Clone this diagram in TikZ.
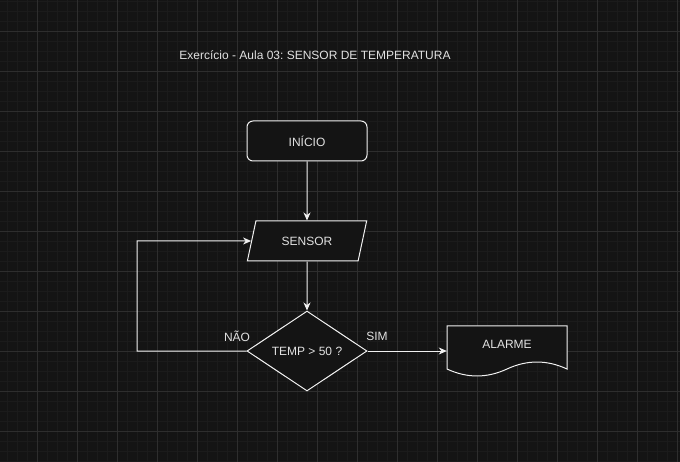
\documentclass[tikz,border=0pt]{standalone}
\usepackage{fontspec}
\setmainfont{Liberation Sans}
\usetikzlibrary{shapes.geometric,arrows.meta}
\definecolor{bgc}{RGB}{20,20,20}
\definecolor{minorc}{RGB}{27,27,27}
\definecolor{majorc}{RGB}{46,46,46}
\definecolor{linec}{RGB}{240,240,240}
\definecolor{txtc}{RGB}{225,225,225}
\tikzset{
  box/.style={draw=linec, fill=bgc, line width=1pt, text=txtc, font=\fontsize{12}{14}\selectfont, inner sep=0pt},
  lbl/.style={text=txtc, font=\fontsize{12}{14}\selectfont, inner sep=0pt},
  arr/.style={draw=linec, line width=1pt, -{Stealth[length=8pt,width=7pt,inset=2.5pt]}},
  plain/.style={draw=linec, line width=1pt}
}
\frenchspacing
\begin{document}
\begin{tikzpicture}[x=1pt,y=-1pt]
\useasboundingbox (0,0) rectangle (680,462);
\fill[bgc] (0,0) rectangle (680,462);
\foreach \i in {7,17,...,677} \draw[minorc,line width=0.6pt] (\i,0) -- (\i,462);
\foreach \j in {1,11,...,461} \draw[minorc,line width=0.6pt] (0,\j) -- (680,\j);
\foreach \i in {37,77,...,677} \draw[majorc,line width=0.8pt] (\i,0) -- (\i,462);
\foreach \j in {31,71,...,431} \draw[majorc,line width=0.8pt] (0,\j) -- (680,\j);

\node[lbl] (title) at (315,55) {\frenchspacing Exercício - Aula 03: SENSOR DE TEMPERATURA};

\node[box, rectangle, rounded corners=6pt, minimum width=120, minimum height=40] (inicio) at (307,141) {INÍCIO};
\node[box, trapezium, trapezium left angle=63.43, trapezium right angle=116.57, trapezium stretches=true, minimum width=120, minimum height=40] (sensor) at (307,241) {SENSOR};
\node[box, diamond, minimum width=120, minimum height=80] (decisao) at (307,351) {TEMP > 50 ?};

% document shape
\coordinate (dNW) at (447,326);
\coordinate (dNE) at (567,326);
\path[box] (dNW) -- (dNE) -- (567,369) .. controls (547,359.7) and (527,359.7) .. (507,369) .. controls (487,378.3) and (467,378.3) .. (447,369) -- cycle;
\node[lbl, minimum width=120, minimum height=36] (alarme) at (507,344) {ALARME};

\coordinate (canto1) at (137,351);
\coordinate (canto2) at (137,241);

\draw[arr] (inicio.south) -- (sensor.north);
\draw[arr] (sensor.south) -- (decisao.north);
\draw[arr] (decisao.east) -- (decisao.east -| alarme.west);
\draw[arr] (decisao.west) -- (canto1) -- (canto2) -- (sensor.west);

\node[lbl] (nao) at (237,336) {NÃO};
\node[lbl] (sim) at (377,336) {SIM};
\end{tikzpicture}
\end{document}
